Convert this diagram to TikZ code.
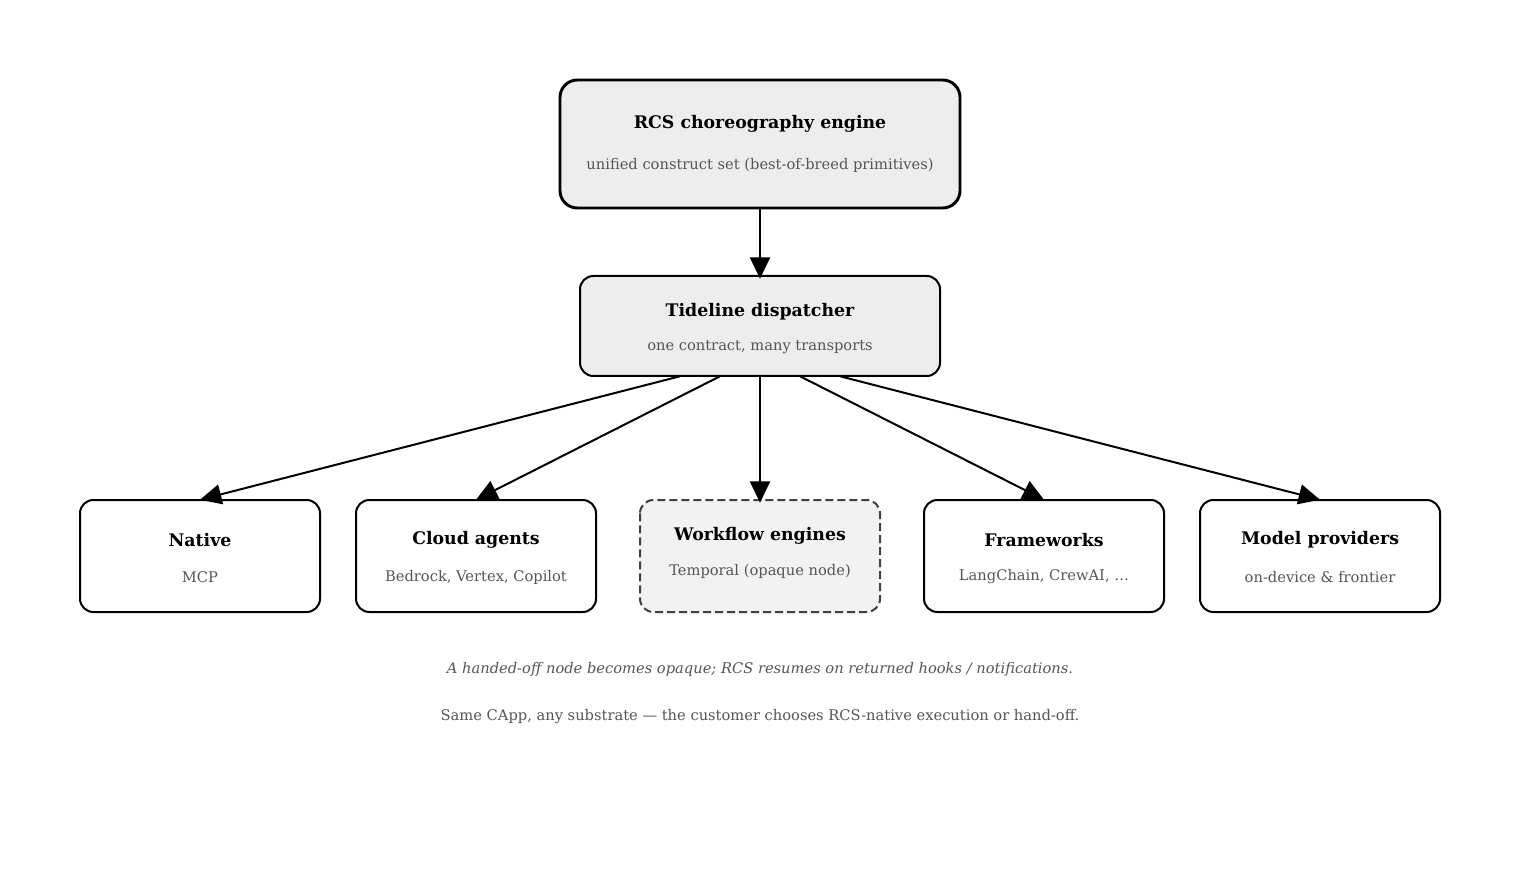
\documentclass[tikz,border=0pt]{standalone}
\usepackage{fontspec}
\setmainfont{DejaVu Serif}
\usetikzlibrary{arrows.meta,calc}
\definecolor{sub}{HTML}{555555}
\begin{document}
\begin{tikzpicture}[x=0.75pt,y=-0.75pt,
  box/.style={draw,rounded corners=10pt,line width=1.5pt},
  ttl/.style={font=\fontsize{13}{15}\selectfont\bfseries},
  stl/.style={font=\fontsize{11}{13}\selectfont,text=sub},
  arr/.style={line width=1.5pt,-{Triangle[length=16pt,width=15pt]}}]
\useasboundingbox (0,0) rectangle (1520,880);
\draw[box,line width=2.2pt,fill=black!7,rounded corners=13pt] (560,80) rectangle (960,208);
\node (top) at (760,144) [minimum width=300pt,minimum height=96pt] {};
\node[ttl] (t1) at (760,124) {RCS choreography engine};
\node[stl] (t2) at (760,165) {unified construct set (best-of-breed primitives)};
\draw[box,fill=black!7] (580,276) rectangle (940,376);
\node (disp) at (760,326) [minimum width=270pt,minimum height=75pt] {};
\node[ttl] (d1) at (760,312) {Tideline dispatcher};
\node[stl] (d2) at (760,347) {one contract, many transports};
\foreach \n/\cx/\a/\b/\dsh in {n1/200/Native / MCP/{inline, sandbox, REST, gRPC}/0,
  n2/476/Cloud agents/{Bedrock, Vertex, Copilot}/0,
  n4/1044/Frameworks/{LangChain, CrewAI, …}/0,
  n5/1320/Model providers/{on-device \& frontier}/0}{
  \draw[box] (\cx-120,500) rectangle (\cx+120,612);
  \node (\n) at (\cx,556) [minimum width=180pt,minimum height=84pt] {};
  \node[ttl] at (\cx,540) {\a};
  \node[stl] at (\cx,577) {\b};
}
\draw[box,dashed,draw=black!75,fill=black!5,dash pattern=on 6pt off 3pt] (640,500) rectangle (880,612);
\node (n3) at (760,556) [minimum width=180pt,minimum height=84pt] {};
\node[ttl] at (760,536) {Workflow engines};
\node[stl] at (760,571) {Temporal (opaque node)};
\draw[arr] (top.south) -- ($(disp.north)+(0,3)$);
\draw[arr] ($(disp.south)+(-80,0)$) -- ($(n1.north)+(0,0)$);
\draw[arr] ($(disp.south)+(-40,0)$) -- (n2.north);
\draw[arr] (disp.south) -- ($(n3.north)+(0,3)$);
\draw[arr] ($(disp.south)+(40,0)$) -- (n4.north);
\draw[arr] ($(disp.south)+(80,0)$) -- (n5.north);
\node[stl,font=\fontsize{11}{13}\selectfont\itshape] (f1) at (760,669) {A handed-off node becomes opaque; RCS resumes on returned hooks / notifications.};
\node[stl] (f2) at (760,717) {Same CApp, any substrate — the customer chooses RCS-native execution or hand-off.};
\end{tikzpicture}
\end{document}
